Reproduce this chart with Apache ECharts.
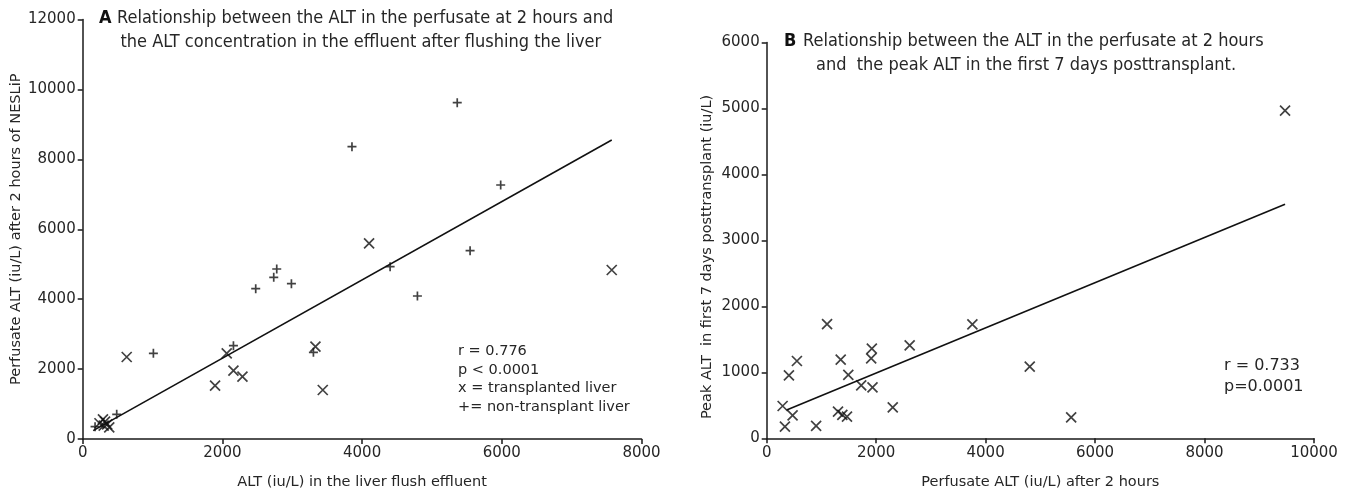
<!DOCTYPE html>
<html>
<head>
<meta charset="utf-8">
<script src="https://cdn.jsdelivr.net/npm/echarts@6/dist/echarts.min.js"></script>
<style>html,body{margin:0;padding:0;background:#fff}#c{width:1351px;height:500px}</style>
</head>
<body>
<div id="c"></div>
<script>
// Panel A: transplanted livers (x markers)
const aTransX = [4100, 7574, 630, 2062, 2158, 2287, 1895, 3332, 3437, 240, 290, 320, 350, 380, 300];
const aTransY = [5598, 4835, 2346, 2451, 1955, 1784, 1526, 2642, 1402, 450, 560, 500, 420, 330, 380];
// Panel A: non-transplant livers (+ markers)
const aNonX = [5362, 3855, 5984, 5546, 4401, 4792, 2778, 2735, 2477, 2988, 1012, 2158, 3303, 487, 177];
const aNonY = [9623, 8363, 7268, 5389, 4931, 4092, 4864, 4626, 4301, 4444, 2451, 2670, 2480, 706, 353];
// Panel A regression line end points
const fitAX = [150, 7574];
const fitAY = [240, 8555];
// Panel B: perfusate ALT at 2 h vs peak ALT first 7 days
const bX = [291, 333, 406, 473, 552, 903, 1103, 1303, 1352, 1382, 1467, 1491, 1727, 1909, 1921, 1933, 2303, 2612, 3758, 4806, 5563, 9471];
const bY = [490, 177, 955, 348, 1172, 187, 1732, 404, 1192, 354, 328, 960, 803, 1212, 1359, 773, 470, 1409, 1727, 1086, 318, 4966];
// Panel B regression line end points
const fitBX = [364, 9471];
const fitBY = [429, 3547];
// Axis ticks
const ticksAX = [0, 2000, 4000, 6000, 8000];
const ticksAY = [0, 2000, 4000, 6000, 8000, 10000, 12000];
const ticksBX = [0, 2000, 4000, 6000, 8000, 10000];
const ticksBY = [0, 1000, 2000, 3000, 4000, 5000, 6000];

const zip = (xs, ys) => xs.map((x, i) => [x, ys[i]]);
const FONT = 'DejaVu Sans';
const COND = 'DejaVu Sans Condensed';
const TXT = '#262626';
const CROSS = 'path://M0,0L10,10M10,0L0,10';
const PLUS = 'path://M5,0L5,10M0,5L10,5';

function axis(ticks, extra) {
  return Object.assign({
    type: 'value',
    min: ticks[0], max: ticks[ticks.length - 1], interval: ticks[1] - ticks[0],
    splitLine: { show: false },
    axisLine: { show: true, onZero: false, lineStyle: { color: '#1a1a1a', width: 1.5 } },
    axisTick: { show: true, length: 5, lineStyle: { color: '#1a1a1a', width: 1.5 } },
    axisLabel: { color: TXT, fontFamily: FONT, fontSize: 15, margin: 7, formatter: v => String(v) },
    nameTextStyle: { color: TXT, fontFamily: FONT, fontSize: 14.5 },
    nameLocation: 'middle'
  }, extra);
}

const markerStyle = { color: 'rgba(0,0,0,0)', borderColor: '#111', borderWidth: 1.7 };

const chart = echarts.init(document.getElementById('c'), null, { renderer: 'canvas' });
chart.setOption({
  backgroundColor: '#fff',
  animation: false,
  grid: [
    { left: 82.7, right: 709.5, top: 19.6, bottom: 61 },
    { left: 766.7, right: 37, top: 42.5, bottom: 61.7 }
  ],
  xAxis: [
    axis(ticksAX, { gridIndex: 0, name: 'ALT (iu/L) in the liver flush effluent', nameGap: 36 }),
    axis(ticksBX, { gridIndex: 1, name: 'Perfusate ALT (iu/L) after 2 hours', nameGap: 36 })
  ],
  yAxis: [
    axis(ticksAY, { gridIndex: 0, name: 'Perfusate ALT (iu/L) after 2 hours of NESLiP', nameGap: 56 }),
    axis(ticksBY, { gridIndex: 1, name: '', nameGap: 52 })
  ],
  series: [
    { type: 'line', xAxisIndex: 0, yAxisIndex: 0, data: zip(fitAX, fitAY), symbol: 'none',
      lineStyle: { color: '#111', width: 1.6 }, silent: true, z: 1 },
    { type: 'scatter', xAxisIndex: 0, yAxisIndex: 0, data: zip(aTransX, aTransY), symbol: CROSS,
      symbolSize: 10, itemStyle: markerStyle, z: 2 },
    { type: 'scatter', xAxisIndex: 0, yAxisIndex: 0, data: zip(aNonX, aNonY), symbol: PLUS,
      symbolSize: 9, itemStyle: markerStyle, z: 2 },
    { type: 'line', xAxisIndex: 1, yAxisIndex: 1, data: zip(fitBX, fitBY), symbol: 'none',
      lineStyle: { color: '#111', width: 1.6 }, silent: true, z: 1 },
    { type: 'scatter', xAxisIndex: 1, yAxisIndex: 1, data: zip(bX, bY), symbol: CROSS,
      symbolSize: 10, itemStyle: markerStyle, z: 2 }
  ],
  graphic: [
    { type: 'text', left: 99, top: 9, style: { text: 'A', font: 'bold 18px "' + COND + '"', fill: '#111' } },
    { type: 'text', left: 117, top: 9, style: { text: 'Relationship between the ALT in the perfusate at 2 hours and', font: '18px "' + COND + '"', fill: TXT } },
    { type: 'text', left: 120.5, top: 33, style: { text: 'the ALT concentration in the effluent after flushing the liver', font: '18px "' + COND + '"', fill: TXT } },
    { type: 'text', left: 784, top: 32, style: { text: 'B', font: 'bold 18px "' + COND + '"', fill: '#111' } },
    { type: 'text', left: 803, top: 32, style: { text: 'Relationship between the ALT in the perfusate at 2 hours', font: '18px "' + COND + '"', fill: TXT } },
    { type: 'text', left: 816, top: 56, style: { text: 'and  the peak ALT in the first 7 days posttransplant.', font: '18px "' + COND + '"', fill: TXT } },
    { type: 'text', left: 458, top: 342, style: { text: 'r = 0.776\np < 0.0001\nx = transplanted liver\n+= non-transplant liver', font: '14.5px "' + FONT + '"', lineHeight: 18.5, fill: TXT } },
    { type: 'text', left: 1224, top: 355, style: { text: 'r = 0.733\np=0.0001', font: '16px "' + FONT + '"', lineHeight: 21, fill: TXT } },
    { type: 'text', x: 707, y: 257, rotation: Math.PI / 2,
      style: { text: 'Peak ALT  in first 7 days posttransplant (iu/L)', font: '14.5px "' + FONT + '"', fill: TXT, align: 'center', verticalAlign: 'middle' } }
  ]
});
</script>
</body>
</html>
